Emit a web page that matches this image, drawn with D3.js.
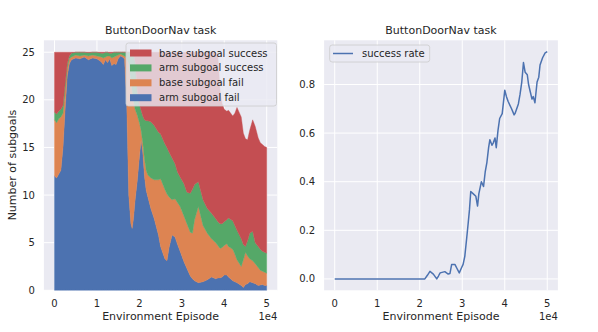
<!DOCTYPE html>
<html>
<head>
<meta charset="utf-8">
<script src="https://cdn.jsdelivr.net/npm/d3@7"></script>
<style>
body{margin:0;background:#fff}
svg{display:block;font-family:"DejaVu Sans",sans-serif}
</style>
</head>
<body>
<div id="chartDiv"></div>
<script>
var width = 598;
var height = 332;

// left panel: subgoal counts per episode (stacked)
var episodes = [0,500,1000,1500,2000,2500,3000,3500,4000,5000,6000,7000,8000,9000,10000,11000,11500,12000,12500,13000,13500,14000,14500,15000,15500,16000,16500,17000,17500,18000,18300,18600,19000,19500,20000,20400,20800,21200,21600,22000,22700,23500,24500,25000,26000,26500,27000,27700,28400,29000,29600,30500,31200,32000,32500,33000,33900,35000,36000,37000,38000,38500,39000,39500,40000,40600,41000,42000,42500,43000,44000,44500,45000,45500,46000,46700,47300,48000,48500,49000,49500,50000];
var armFail = [12.0,11.8,12.2,12.6,15.0,19.0,22.5,23.8,24.2,24.4,24.3,24.5,24.2,24.4,24.3,24.0,23.7,24.2,23.9,24.3,23.6,23.8,23.7,24.3,24.6,24.5,24.3,20.0,10.0,7.0,6.5,7.5,9.5,11.5,14.0,15.8,14.5,12.0,10.5,9.8,8.6,7.5,5.8,4.6,3.3,3.1,4.5,5.8,5.6,4.8,4.1,3.0,2.3,1.5,1.2,1.0,0.8,0.9,1.1,1.4,1.2,1.3,1.3,1.4,1.6,1.6,1.4,1.0,0.9,0.8,0.5,0.3,0.6,0.7,0.9,0.8,0.7,0.5,0.55,0.6,0.5,0.5];
var baseFail = [5.9,5.8,5.8,5.6,3.6,2.0,0.9,0.5,0.3,0.3,0.3,0.2,0.4,0.3,0.3,0.5,0.7,0.3,0.7,0.3,0.8,0.7,0.9,0.4,0.2,0.2,0.3,4.4,13.8,15.0,14.5,12.5,9.5,6.9,3.6,1.0,1.0,1.8,2.1,2.3,3.2,4.1,5.8,7.1,7.3,7.0,5.3,3.7,4.0,4.4,4.7,4.8,4.7,4.6,4.8,6.4,8.0,5.9,4.9,4.0,3.8,3.4,3.1,3.1,3.1,3.3,3.2,3.3,2.9,2.4,2.0,2.9,3.4,2.9,2.4,2.3,2.1,1.9,1.55,1.4,1.4,1.3];
var armSuccess = [0.8,0.9,0.8,0.8,0.8,0.6,0.4,0.3,0.4,0.3,0.4,0.3,0.35,0.3,0.4,0.4,0.5,0.5,0.4,0.3,0.5,0.5,0.4,0.3,0.2,0.3,0.4,0.6,1.2,3.0,4.0,4.8,5.0,2.6,1.9,2.1,2.8,4.1,5.2,5.7,5.9,5.7,5.0,4.7,4.8,4.9,4.7,4.4,3.7,3.2,3.1,3.4,3.3,4.1,4.6,3.7,2.6,2.7,2.6,2.7,2.5,2.5,2.6,2.5,2.5,2.5,3.0,3.0,3.0,3.1,2.9,1.6,0.6,1.6,2.7,3.1,2.2,2.2,2.2,2.1,2.1,2.1];
var baseSuccess = [6.3,6.5,6.2,6.0,5.6,3.4,1.2,0.4,0.1,0.0,0.0,0.0,0.05,0.0,0.0,0.1,0.1,0.0,0.0,0.1,0.1,0.0,0.0,0.0,0.0,0.0,0.0,0.0,0.0,0.0,0.0,0.2,1.0,4.0,5.5,6.1,6.7,7.1,7.2,7.2,7.3,7.7,8.4,8.6,9.6,10.0,10.5,11.1,11.7,12.6,13.1,13.8,14.7,14.8,14.4,13.9,13.6,15.5,16.4,16.9,17.5,17.4,14.0,12.6,11.8,11.4,11.3,11.0,11.8,12.9,12.8,11.7,11.3,10.6,10.8,11.7,12.2,11.4,11.2,11.2,11.1,11.1];

// right panel: success rate
var rateEpisodes = [0,21200,21800,22400,23200,24000,24400,24800,25900,26700,27100,27500,28300,28700,29300,29800,30200,30600,31000,31400,31700,32000,32600,33200,33600,33900,34500,35000,35400,35800,36200,36500,37000,37300,37700,38000,38400,38800,39400,40000,40400,40800,41600,42200,42400,43200,43600,44000,44400,44800,45300,45600,46000,46400,46700,47100,47600,48000,48300,48900,49500,50000];
var successRate = [0,0,0.015,0.031,0.02,0.0,0.012,0.025,0.03,0.02,0.022,0.059,0.059,0.045,0.025,0.045,0.06,0.093,0.16,0.23,0.285,0.36,0.35,0.34,0.30,0.35,0.40,0.38,0.44,0.48,0.54,0.573,0.55,0.56,0.58,0.54,0.61,0.66,0.68,0.776,0.75,0.73,0.70,0.675,0.68,0.72,0.76,0.81,0.89,0.85,0.84,0.80,0.77,0.74,0.75,0.725,0.81,0.83,0.88,0.91,0.93,0.935];

var xTicks = [0,10000,20000,30000,40000,50000];
var xTickLabels = ["0","1","2","3","4","5"];
var countTicks = [0,5,10,15,20,25];
var rateTicks = [0,0.2,0.4,0.6,0.8];

var keys = ["armFail","baseFail","armSuccess","baseSuccess"];
var labels = {armFail:"arm subgoal fail", baseFail:"base subgoal fail", armSuccess:"arm subgoal success", baseSuccess:"base subgoal success"};
var color = {armFail:"#4C72B0", baseFail:"#DD8452", armSuccess:"#55A868", baseSuccess:"#C44E52"};
var seriesData = {armFail, baseFail, armSuccess, baseSuccess};

var ink = "#262626";
var plotTop = 40.3, plotBottom = 290.3;

var svg = d3.select("#chartDiv")
    .append("svg")
    .attr("width", width)
    .attr("height", height)
    .style("font-size", "10px");

svg.append("rect").attr("width", width).attr("height", height).attr("fill", "#fff");

const margin5 = (lo, hi) => [lo - (hi - lo) * 0.05, hi + (hi - lo) * 0.05];

// draws background, grid, tick labels and titles for one panel
const panel = (left, right, xDom, yDom, yTicks, yFmt, title) => {
    var x = d3.scaleLinear().domain(xDom).range([left, right]);
    var y = d3.scaleLinear().domain(yDom).range([plotBottom, plotTop]);
    var g = svg.append("g");
    g.append("rect")
        .attr("x", left).attr("y", plotTop)
        .attr("width", right - left).attr("height", plotBottom - plotTop)
        .attr("fill", "#EAEAF2");
    g.append("g").selectAll("line").data(xTicks).join("line")
        .attr("x1", d => x(d)).attr("x2", d => x(d))
        .attr("y1", plotTop).attr("y2", plotBottom)
        .attr("stroke", "#fff").attr("stroke-width", 1);
    g.append("g").selectAll("line").data(yTicks).join("line")
        .attr("x1", left).attr("x2", right)
        .attr("y1", d => y(d)).attr("y2", d => y(d))
        .attr("stroke", "#fff").attr("stroke-width", 1);
    g.append("g").selectAll("text").data(xTicks).join("text")
        .attr("x", d => x(d)).attr("y", 307)
        .attr("text-anchor", "middle").attr("fill", ink)
        .text((d, i) => xTickLabels[i]);
    g.append("g").selectAll("text").data(yTicks).join("text")
        .attr("x", left - 9).attr("y", d => y(d)).attr("dy", "0.35em")
        .attr("text-anchor", "end").attr("fill", ink)
        .text(yFmt);
    svg.append("text")
        .attr("x", (left + right) / 2).attr("y", 320)
        .attr("text-anchor", "middle").attr("fill", ink)
        .style("font-size", "11px")
        .text("Environment Episode");
    svg.append("text")
        .attr("x", right).attr("y", 320)
        .attr("text-anchor", "end").attr("fill", ink)
        .text("1e4");
    svg.append("text")
        .attr("x", (left + right) / 2).attr("y", 34)
        .attr("text-anchor", "middle").attr("fill", ink)
        .style("font-size", "11px")
        .text(title);
    return {x, y};
};

// ---- left: stacked subgoals ----
var rows = episodes.map((e, i) => {
    var r = {episode: e};
    keys.forEach(k => r[k] = seriesData[k][i]);
    return r;
});
var stacked = d3.stack().keys(keys)(rows);
var maxTotal = d3.max(stacked[stacked.length - 1], d => d[1]);

var L = panel(43.9, 277.3, margin5(d3.min(episodes), d3.max(episodes)), [0, maxTotal * 1.05],
    countTicks, d => d, "ButtonDoorNav task");

var area = d3.area()
    .x(d => L.x(d.data.episode))
    .y0(d => L.y(d[0]))
    .y1(d => L.y(d[1]));

svg.append("g")
    .selectAll("path")
    .data(stacked)
    .join("path")
        .attr("fill", d => color[d.key])
        .attr("stroke", d => color[d.key])
        .attr("stroke-width", 0.4)
        .attr("d", area);

svg.append("text")
    .attr("transform", "translate(16,165) rotate(-90)")
    .attr("text-anchor", "middle").attr("fill", ink)
    .style("font-size", "11px")
    .text("Number of subgoals");

var legL = svg.append("g");
legL.append("rect")
    .attr("x", 126).attr("y", 43).attr("width", 150.5).attr("height", 63)
    .attr("rx", 2.5)
    .attr("fill", "#EAEAF2").attr("fill-opacity", 0.8)
    .attr("stroke", "#cccccc").attr("stroke-width", 0.8);
var legItems = legL.selectAll("g").data(keys.slice().reverse()).join("g")
    .attr("transform", (d, i) => `translate(0,${53 + i * 14.9})`);
legItems.append("rect")
    .attr("x", 130).attr("y", -3.5).attr("width", 21.5).attr("height", 7)
    .attr("fill", d => color[d]);
legItems.append("text")
    .attr("x", 159).attr("dy", "0.35em").attr("fill", ink)
    .text(d => labels[d]);

// ---- right: success rate ----
var R = panel(324.1, 557.9, margin5(d3.min(rateEpisodes), d3.max(rateEpisodes)),
    margin5(d3.min(successRate), d3.max(successRate)),
    rateTicks, d => d.toFixed(1), "ButtonDoorNav task");

svg.append("path")
    .datum(rateEpisodes.map((e, i) => [e, successRate[i]]))
    .attr("fill", "none")
    .attr("stroke", "#4C72B0")
    .attr("stroke-width", 1.5)
    .attr("stroke-linejoin", "round")
    .attr("d", d3.line().x(d => R.x(d[0])).y(d => R.y(d[1])));

var legR = svg.append("g");
legR.append("rect")
    .attr("x", 329.7).attr("y", 45).attr("width", 100).attr("height", 17)
    .attr("rx", 2.5)
    .attr("fill", "#EAEAF2").attr("fill-opacity", 0.8)
    .attr("stroke", "#cccccc").attr("stroke-width", 0.8);
legR.append("line")
    .attr("x1", 333).attr("x2", 353).attr("y1", 53.5).attr("y2", 53.5)
    .attr("stroke", "#4C72B0").attr("stroke-width", 1.5);
legR.append("text")
    .attr("x", 362).attr("y", 53.5).attr("dy", "0.35em").attr("fill", ink)
    .text("success rate");
</script>
</body>
</html>
